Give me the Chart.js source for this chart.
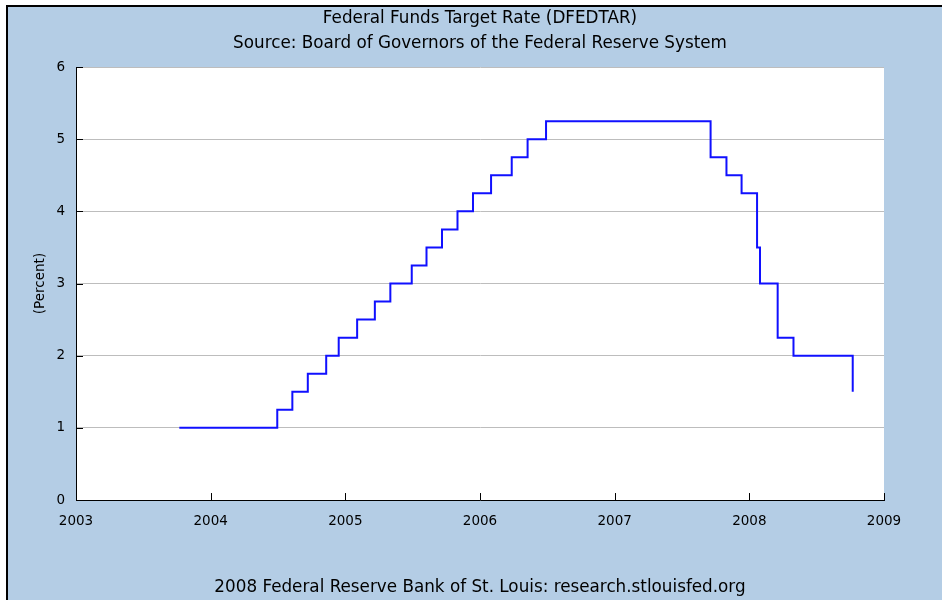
<!DOCTYPE html>
<html>
<head>
<meta charset="utf-8">
<title>Federal Funds Target Rate</title>
<script src="https://cdn.jsdelivr.net/npm/chart.js@4/dist/chart.umd.min.js"></script>
<style>
  html, body { margin: 0; padding: 0; background: #fff; overflow: hidden; }
  #wrap { width: 942px; height: 600px; position: relative; }
</style>
</head>
<body>
<div id="wrap"><canvas id="rateChart"></canvas></div>
<script>
// dates the target changed, and the new target (percent)
const changeDates = [
  '2003-10-08', '2004-06-30', '2004-08-10', '2004-09-21', '2004-11-10',
  '2004-12-14', '2005-02-02', '2005-03-22', '2005-05-03', '2005-06-30',
  '2005-08-09', '2005-09-20', '2005-11-01', '2005-12-13', '2006-01-31',
  '2006-03-28', '2006-05-10', '2006-06-29', '2007-09-18', '2007-10-31',
  '2007-12-11', '2008-01-22', '2008-01-30', '2008-03-18', '2008-04-30',
  '2008-10-08'
];
const targetRates = [
  1.00, 1.25, 1.50, 1.75, 2.00,
  2.25, 2.50, 2.75, 3.00, 3.25,
  3.50, 3.75, 4.00, 4.25, 4.50,
  4.75, 5.00, 5.25, 4.75, 4.50,
  4.25, 3.50, 3.00, 2.25, 2.00,
  1.50
];
const yearTicks = [2003, 2004, 2005, 2006, 2007, 2008, 2009];
const rateTicks = [0, 1, 2, 3, 4, 5, 6];

const titleLines = [
  'Federal Funds Target Rate (DFEDTAR)',
  'Source: Board of Governors of the Federal Reserve System'
];
const footerText = '2008 Federal Reserve Bank of St. Louis: research.stlouisfed.org';

const textFont = '"DejaVu Sans", Verdana, sans-serif';

// date string -> decimal year
function toYear(s) {
  const [y, m, d] = s.split('-').map(Number);
  const start = Date.UTC(y, 0, 1);
  const end = Date.UTC(y + 1, 0, 1);
  return y + (Date.UTC(y, m - 1, d) - start) / (end - start);
}

const points = changeDates.map((d, i) => ({ x: toYear(d), y: targetRates[i] }));

// page frame + white plot area
const backdrop = {
  id: 'backdrop',
  beforeDraw(chart) {
    const ctx = chart.ctx;
    const a = chart.chartArea;
    ctx.save();
    ctx.fillStyle = '#ffffff';
    ctx.fillRect(0, 0, chart.width, chart.height);
    ctx.fillStyle = '#000000';
    ctx.fillRect(6, 5, chart.width, chart.height);
    ctx.fillStyle = '#b4cde5';
    ctx.fillRect(8, 7, chart.width, chart.height);
    ctx.fillStyle = '#ffffff';
    ctx.fillRect(a.left, a.top, a.right - a.left, a.bottom - a.top);
    ctx.restore();
  }
};

// short tick marks pointing into the plot
const innerTicks = {
  id: 'innerTicks',
  afterDraw(chart) {
    const ctx = chart.ctx;
    const a = chart.chartArea;
    const xs = chart.scales.x, ys = chart.scales.y;
    ctx.save();
    ctx.strokeStyle = '#000';
    ctx.lineWidth = 1;
    ctx.beginPath();
    yearTicks.forEach(v => {
      const px = Math.round(xs.getPixelForValue(v)) + 0.5;
      ctx.moveTo(px, a.bottom);
      ctx.lineTo(px, a.bottom - 7);
    });
    rateTicks.forEach(v => {
      const py = Math.round(ys.getPixelForValue(v)) + 0.5;
      ctx.moveTo(a.left, py);
      ctx.lineTo(a.left + 7, py);
    });
    ctx.stroke();
    ctx.restore();
  }
};

new Chart(document.getElementById('rateChart'), {
  type: 'line',
  data: {
    datasets: [{
      data: points,
      stepped: true,
      borderColor: '#1010ff',
      borderWidth: 2,
      pointRadius: 0,
      fill: false
    }]
  },
  options: {
    responsive: true,
    maintainAspectRatio: false,
    devicePixelRatio: 1,
    animation: false,
    layout: { padding: { left: 0, right: 58, top: 0, bottom: 0 } },
    plugins: {
      legend: { display: false },
      tooltip: { enabled: false },
      title: {
        display: true,
        fullSize: false,
        text: titleLines,
        color: '#000',
        font: { family: textFont, size: 16.8, weight: 'normal', lineHeight: 25 / 16.8 },
        padding: { top: 6, bottom: 11 }
      },
      subtitle: {
        display: true,
        fullSize: false,
        position: 'bottom',
        text: footerText,
        color: '#000',
        font: { family: textFont, size: 16.8, weight: 'normal', lineHeight: 1.2 },
        padding: { top: 0, bottom: 2 }
      }
    },
    scales: {
      x: {
        type: 'linear',
        min: 2003,
        max: 2009,
        afterBuildTicks: s => { s.ticks = yearTicks.map(v => ({ value: v })); },
        afterFit: s => { s.height = 77.8; },
        grid: { display: false, drawTicks: false },
        border: { display: true, color: '#000', width: 1 },
        ticks: {
          color: '#000',
          font: { family: textFont, size: 13.5 },
          padding: 13,
          maxRotation: 0,
          autoSkip: false,
          callback: v => String(v)
        }
      },
      y: {
        min: 0,
        max: 6,
        afterBuildTicks: s => { s.ticks = rateTicks.map(v => ({ value: v })); },
        afterFit: s => { s.width = 76; },
        grid: { color: '#bdbdbd', lineWidth: 1, drawTicks: false },
        border: { display: true, color: '#000', width: 1 },
        ticks: {
          color: '#000',
          font: { family: textFont, size: 13.5 },
          padding: 11,
          callback: v => String(v)
        },
        title: {
          display: true,
          text: '(Percent)',
          color: '#000',
          font: { family: textFont, size: 13.5 },
          padding: { top: 32, bottom: 0 }
        }
      }
    }
  },
  plugins: [backdrop, innerTicks]
});
</script>
</body>
</html>
